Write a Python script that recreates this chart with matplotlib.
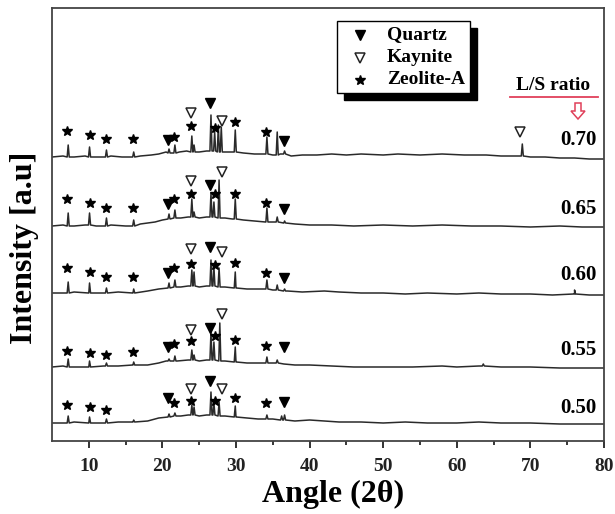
import numpy as np
import matplotlib.pyplot as plt
from matplotlib.patches import Rectangle, Polygon
from matplotlib.lines import Line2D

plt.rcParams['font.family'] = ['Liberation Serif', 'DejaVu Serif']
plt.rcParams['font.weight'] = 'bold'

W, H = 615, 514

# L/S ratios, bottom to top, and where each trace sits (a.u.)
ratios = ['0.50', '0.55', '0.60', '0.65', '0.70']
offsets = [18, 74, 148, 215, 284]

# background (angle, level above the trace baseline)
bg_050 = [(5, 0), (6.5, 0), (8, 1), (10, 0), (12, 0), (14, 1), (16, 1), (18, 2), (19.5, 5), (21, 7),
          (22.5, 7), (23.5, 8), (25, 7), (26, 8), (28.5, 7), (30, 6), (31.5, 5), (33, 4), (35, 4), (36, 3),
          (38, 2), (40, 3), (42, 2), (44, 1), (47, 1), (50, 0), (53, 1), (56, 0), (60, 0), (63, 1), (66, 0),
          (70, 0), (74, -1), (77, -1), (80, -1)]
bg_055 = [(5, 0), (6.5, 1), (8, 0), (10, 0), (12, 1), (14, 1), (16, 2), (18, 2), (19.5, 4), (20.5, 6),
          (22, 6), (23.5, 7), (25, 6), (26, 7), (28.5, 6), (30, 5), (31.5, 4), (33, 4), (35, 4), (36.5, 3),
          (38, 2), (40, 2), (43, 1), (46, 0), (50, 0), (54, 0), (58, 1), (60, 0), (63, 1), (66, 0), (70, 0),
          (74, -1), (77, -1), (80, -1)]
bg_060 = [(5, 0), (6.5, 0), (8, 1), (10, 0), (12, 0), (14, 1), (16, 0), (18, 2), (19.5, 4), (21, 6),
          (22.5, 6), (23.5, 7), (25, 6), (26, 7), (28.5, 6), (30, 5), (31.5, 4), (33, 4), (35, 3), (37, 2),
          (39, 1), (42, 2), (44, 1), (47, 0), (50, 0), (53, -1), (56, 0), (60, -1), (63, 0), (66, -1),
          (70, -1), (73, -2), (76, -1), (78, -2), (80, -2)]
bg_065 = [(5, 0), (6.5, 1), (8, 0), (9.5, 1), (11, 0), (13, 1), (15, 0), (17, 2), (19, 4), (20, 6),
          (21, 8), (22.5, 8), (23.5, 9), (25, 8), (26, 9), (28.5, 8), (29.5, 7), (31, 6), (32.5, 5), (34, 4),
          (35, 4), (36.5, 3), (38, 2), (40, 1), (43, 1), (46, 0), (50, 1), (54, 0), (58, 1), (62, 0),
          (66, 0), (70, -1), (74, 0), (77, -1), (80, -1)]
bg_070 = [(5, 0), (6.5, 1), (8, 0), (9.5, 1), (11, 0), (13, 1), (14.5, 0), (17, 1), (18.5, 2), (19.5, 3),
          (20.5, 5), (21.2, 4), (22.3, 5), (23.3, 6), (25, 5), (26, 6), (28.5, 5), (29.5, 5), (31, 4),
          (32.5, 3), (33.5, 3), (35, 2), (36, 3), (37.5, 1), (39, 2), (41, 2), (43, 3), (45, 2), (47, 3),
          (50, 2), (52, 3), (55, 2), (58, 3), (61, 2), (64, 2), (66, 1), (68, 1), (70, 0), (72, 0),
          (74, -1), (76, -1), (78, -2), (80, -2)]

# peaks (angle, foot level, top level) above the trace baseline
pk_050 = [(7.2, 0, 7), (10.1, 0, 6), (12.4, 0, 4), (16.1, 1, 3), (20.9, 6, 9), (21.7, 7, 10), (24.0, 8, 18),
          (24.3, 8, 16), (26.6, 8, 31), (27.0, 8, 20), (27.7, 7, 21), (29.9, 6, 17), (34.2, 4, 8),
          (36.2, 3, 7), (36.6, 3, 8)]
pk_055 = [(7.2, 0, 8), (10.1, 0, 6), (12.4, 1, 4), (16.1, 2, 5), (20.9, 6, 8), (21.7, 6, 11), (24.0, 7, 17),
          (24.3, 7, 12), (26.6, 7, 35), (27.0, 7, 25), (27.8, 6, 44), (29.9, 5, 20), (34.2, 4, 10),
          (35.6, 4, 7), (63.6, 1, 3)]
pk_060 = [(7.2, 0, 11), (10.1, 0, 10), (12.4, 0, 5), (16.1, 0, 4), (20.9, 5, 10), (21.7, 6, 13),
          (24.0, 7, 23), (24.3, 7, 21), (26.6, 7, 33), (27.0, 7, 26), (27.7, 6, 25), (29.9, 5, 21),
          (34.2, 4, 13), (35.6, 3, 8), (36.6, 2, 4), (76.0, -1, 3)]
pk_065 = [(7.2, 0, 13), (10.1, 1, 13), (12.4, 0, 8), (16.1, 0, 6), (20.9, 7, 12), (21.7, 8, 16),
          (24.0, 9, 27), (24.3, 9, 14), (26.6, 9, 33), (27.0, 9, 24), (27.7, 8, 46), (29.9, 7, 27),
          (34.2, 4, 18), (35.6, 4, 9), (36.6, 3, 5)]
pk_070 = [(7.2, 0, 12), (10.1, 0, 10), (12.4, 0, 7), (16.1, 0, 5), (20.9, 4, 8), (21.7, 4, 12),
          (24.0, 5, 21), (24.3, 5, 12), (26.6, 6, 42), (27.1, 6, 25), (27.6, 5, 32), (28.0, 5, 30),
          (29.9, 5, 27), (34.2, 3, 20), (35.6, 2, 25), (36.6, 3, 6), (68.9, 1, 13)]

backgrounds = [bg_050, bg_055, bg_060, bg_065, bg_070]
peaks = [pk_050, pk_055, pk_060, pk_065, pk_070]

# phase markers: angles, and heights above each trace baseline
zeolite_angles = [7.1, 10.1, 12.4, 16.0, 21.6, 23.9, 27.1, 29.9, 34.1]
quartz_angles = [20.8, 26.5, 36.5]
kaynite_angles = [23.9, 28.1, 68.6]
nan = np.nan
zeolite_h = [[18, 16, 13, nan, 20, 22, 22, 25, 20],
             [16, 14, 12, 15, 23, 26, 31, 27, 21],
             [25, 21, 16, 16, 25, 29, 28, 30, 20],
             [27, 23, 18, 18, 27, 32, 32, 32, 23],
             [26, 22, 18, 18, 20, 31, 29, 35, 25]]
quartz_h = [[25, 42, 21], [20, 39, 20], [20, 46, 15], [22, 41, 17], [17, 54, 16]]
kaynite_h = [[34, 34, nan], [37, 53, nan], [44, 41, nan], [45, 54, nan], [44, 36, 25]]

legend_labels = ['Quartz', 'Kaynite', 'Zeolite-A']


def build_trace(bg, pk, half=0.14):
    pts = list(bg)
    for a, foot, top in pk:
        pts += [(a - half, foot), (a, top), (a + half, foot)]
    pts.sort(key=lambda p: p[0])
    return np.array([p[0] for p in pts]), np.array([p[1] for p in pts])


def px(x, y):
    return x / W, 1 - y / H


fig = plt.figure(figsize=(W / 100, H / 100), dpi=100)
ax = fig.add_axes([52 / W, 1 - 441 / H, 552 / W, 433 / H])

line_col = '#2a2a2a'
for i in range(len(ratios)):
    x, y = build_trace(backgrounds[i], peaks[i])
    ax.plot(x, y + offsets[i], color=line_col, lw=1.1)
    ax.plot(zeolite_angles, np.array(zeolite_h[i]) + offsets[i], ls='none', marker='*',
            ms=7.5, color='black')
    ax.plot(quartz_angles, np.array(quartz_h[i]) + offsets[i], ls='none', marker='v',
            ms=7, color='black')
    ax.plot(kaynite_angles, np.array(kaynite_h[i]) + offsets[i], ls='none', marker='v',
            ms=7, mfc='white', mec='#222', mew=1.1)

ax.set_xlim(5, 80)
ax.set_ylim(0, 433)
ax.set_yticks([])
ax.set_xticks(np.arange(10, 81, 10))
ax.set_xticks(np.arange(15, 80, 10), minor=True)
ax.tick_params(axis='x', which='major', direction='out', length=5, width=1.3, pad=7,
               labelsize=14, colors='#222')
ax.tick_params(axis='x', which='minor', direction='out', length=3, width=1.1)
for lab in ax.get_xticklabels():
    lab.set_fontweight('bold')
for s in ax.spines.values():
    s.set_linewidth(1.3)
    s.set_color('#444')

# ratio labels at the right end of each trace
label_y = [408, 350, 275, 209, 140]
for r, ly in zip(ratios, label_y):
    fig.text(*px(578, ly), r, ha='center', va='center', fontsize=15, fontweight='bold')

# legend box with hard black shadow
fig.patches.append(Rectangle(px(344, 100), 133 / W, 72 / H, transform=fig.transFigure,
                             fc='black', ec='black', zorder=5))
fig.patches.append(Rectangle(px(337, 93), 133 / W, 72 / H, transform=fig.transFigure,
                             fc='white', ec='black', lw=1.0, zorder=6))
row_y = [35, 58, 80]
styles = [dict(marker='v', color='black', ms=7),
          dict(marker='v', mfc='white', mec='#222', mew=1.1, ms=7),
          dict(marker='*', color='black', ms=7.5)]
for lab, ry, st in zip(legend_labels, row_y, styles):
    fig.lines.append(Line2D([360 / W], [1 - ry / H], transform=fig.transFigure, ls='none',
                            zorder=7, **st))
    fig.text(*px(387, ry), lab, ha='left', va='center', fontsize=14, fontweight='bold', zorder=7)

# L/S ratio header with red underline and hollow arrow
fig.text(*px(553, 86), 'L/S ratio', ha='center', va='center', fontsize=14, fontweight='bold')
fig.lines.append(Line2D([510 / W, 598 / W], [1 - 97 / H, 1 - 97 / H], transform=fig.transFigure,
                        color='#e0405a', lw=1.3))
arrow = [(575, 103), (581, 103), (581, 111), (585, 111), (578, 119), (571, 111), (575, 111)]
fig.patches.append(Polygon([px(*p) for p in arrow], closed=True, transform=fig.transFigure,
                           fc='white', ec='#e0405a', lw=1.1))

fig.text(*px(333, 494), 'Angle (2θ)', ha='center', va='center', fontsize=23, fontweight='bold')
fig.text(*px(25, 248), 'Intensity [a.u]', ha='center', va='center', rotation=90,
         fontsize=23, fontweight='bold')

fig.savefig('out.png', dpi=100)
